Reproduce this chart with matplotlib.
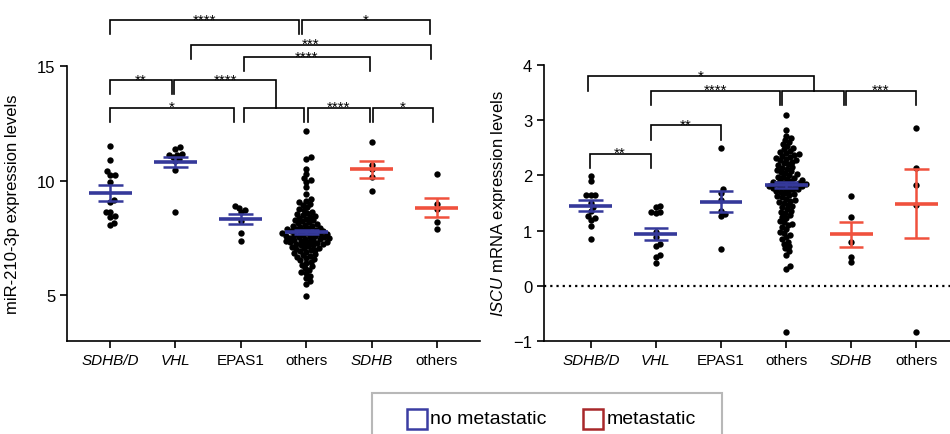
import numpy as np
import matplotlib
matplotlib.use('Agg')
import matplotlib.pyplot as plt
from matplotlib.patches import Rectangle
from matplotlib.lines import Line2D

plt.rcParams['font.family'] = ['Liberation Sans', 'DejaVu Sans']
plt.rcParams['mathtext.fontset'] = 'custom'
plt.rcParams['mathtext.it'] = 'Liberation Sans:italic'
plt.rcParams['mathtext.rm'] = 'Liberation Sans'

# groups (4 non metastatic, 2 metastatic)
groups = ['SDHB/D', 'VHL', 'EPAS1', 'others', 'SDHB', 'others']
group_italic = [True, True, False, False, True, False]
metastatic = [False, False, False, False, True, True]

# miR-210-3p values
mir_sdhbd = [11.5, 10.9, 10.25, 10.25, 10.4, 9.95, 9.05, 9.15, 8.65, 8.65, 8.4, 8.45, 8.05, 8.15]
mir_vhl = [11.46, 11.39, 11.17, 11.13, 11.13, 11.03, 10.95, 10.85, 10.48, 8.64]
mir_epas1 = [8.87, 8.8, 8.71, 8.61, 8.25, 7.72, 7.36]
mir_others = [12.15, 11.02, 10.95, 10.52, 10.3, 10.12, 10.02, 9.95, 9.72, 9.4, 9.2, 9.12,
              9.05, 9.0, 8.92, 8.85, 8.78, 8.72, 8.65, 8.6, 8.55, 8.5, 8.46, 8.42, 8.38,
              8.34, 8.3, 8.26, 8.22, 8.18, 8.14, 8.1, 8.07, 8.04, 8.01, 7.98, 7.95, 7.92,
              7.9, 7.88, 7.85, 7.83, 7.8, 7.78, 7.76, 7.74, 7.72, 7.7, 7.68, 7.66, 7.64,
              7.62, 7.6, 7.58, 7.56, 7.54, 7.52, 7.5, 7.48, 7.46, 7.44, 7.42, 7.4, 7.38,
              7.36, 7.34, 7.32, 7.3, 7.28, 7.26, 7.24, 7.22, 7.2, 7.17, 7.14, 7.11, 7.08,
              7.05, 7.02, 6.99, 6.95, 6.91, 6.87, 6.83, 6.79, 6.75, 6.71, 6.67, 6.62,
              6.57, 6.52, 6.46, 6.4, 6.33, 6.26, 6.18, 6.1, 6.02, 5.95, 5.85, 5.75, 5.62,
              5.5, 4.95]
mir_sdhb_met = [11.7, 10.7, 10.5, 10.15, 9.55]
mir_others_met = [10.3, 9.0, 8.75, 8.2, 7.9]
mir_mean = [9.46, 10.83, 8.33, 7.77, 10.49, 8.81]
mir_sem = [0.33, 0.22, 0.21, 0.08, 0.36, 0.42]

# ISCU mRNA values
iscu_sdhbd = [1.99, 1.9, 1.64, 1.64, 1.64, 1.5, 1.42, 1.35, 1.26, 1.22, 1.19, 1.08, 0.85]
iscu_vhl = [1.44, 1.42, 1.33, 1.33, 1.31, 0.97, 0.88, 0.76, 0.72, 0.56, 0.52, 0.41]
iscu_epas1 = [2.5, 1.76, 1.69, 1.56, 1.36, 1.3, 1.26, 0.67]
iscu_others = [3.1, 2.83, 2.72, 2.68, 2.64, 2.6, 2.57, 2.53, 2.5, 2.47, 2.44, 2.42, 2.4,
               2.38, 2.37, 2.35, 2.34, 2.32, 2.3, 2.28, 2.27, 2.25, 2.22, 2.2, 2.18, 2.16,
               2.14, 2.12, 2.1, 2.08, 2.06, 2.04, 2.02, 2.0, 1.98, 1.97, 1.95, 1.93, 1.92,
               1.9, 1.89, 1.88, 1.87, 1.86, 1.85, 1.84, 1.83, 1.82, 1.81, 1.8, 1.79, 1.78,
               1.77, 1.76, 1.75, 1.73, 1.72, 1.7, 1.68, 1.66, 1.64, 1.62, 1.6, 1.58, 1.56,
               1.54, 1.52, 1.5, 1.47, 1.44, 1.42, 1.39, 1.36, 1.34, 1.31, 1.28, 1.25, 1.22,
               1.18, 1.15, 1.12, 1.1, 1.06, 1.02, 0.98, 0.95, 0.92, 0.88, 0.84, 0.8, 0.76,
               0.72, 0.68, 0.63, 0.56, 0.35, 0.3, -0.83]
iscu_sdhb_met = [1.62, 1.25, 0.79, 0.53, 0.43]
iscu_others_met = [2.85, 2.14, 1.82, 1.46, -0.83]
iscu_mean = [1.45, 0.94, 1.52, 1.83, 0.93, 1.49]
iscu_sem = [0.10, 0.11, 0.19, 0.05, 0.22, 0.62]

# significance brackets: x1, x2, bar y, left leg end, right leg end, label
mir_brackets = [
    (0.0, 2.89, 17.0, 16.4, 16.4, '****'),
    (2.94, 4.89, 17.0, 16.4, 16.4, '*'),
    (1.23, 4.91, 15.92, 15.31, 15.31, '***'),
    (2.05, 3.97, 15.39, 14.78, 14.78, '****'),
    (0.0, 0.94, 14.39, 13.78, 13.78, '**'),
    (0.98, 2.54, 14.39, 13.78, 13.17, '****'),
    (2.05, 2.97, 13.17, 12.55, 12.55, ''),
    (0.0, 1.89, 13.17, 12.55, 12.55, '*'),
    (3.03, 3.97, 13.17, 12.55, 12.55, '****'),
    (4.02, 4.94, 13.17, 12.55, 12.55, '*'),
]
iscu_brackets = [
    (-0.05, 3.43, 3.80, 3.53, 3.53, '*'),
    (0.92, 2.91, 3.53, 3.28, 3.28, '****'),
    (2.94, 3.89, 3.53, 3.28, 3.28, ''),
    (3.92, 5.0, 3.53, 3.28, 3.28, '***'),
    (0.92, 2.0, 2.91, 2.64, 2.64, '**'),
    (-0.02, 0.92, 2.39, 2.13, 2.13, '**'),
]

BLUE = '#35399a'
RED = '#f0513d'


def swarm(vals, xpx, ypx, d=4.6):
    # simple beeswarm in pixel space, returns x offsets in data units
    vals = np.asarray(vals, float)
    placed = []
    offs = np.zeros(len(vals))
    for i in np.argsort(vals):
        y = vals[i] * ypx
        cands = [0.0]
        for px, py in placed:
            dy = y - py
            if abs(dy) < d:
                dx = np.sqrt(d * d - dy * dy)
                cands += [px + dx, px - dx]
        cands.sort(key=abs)
        for c in cands:
            if all((c - px) ** 2 + (y - py) ** 2 >= d * d - 1e-6 for px, py in placed):
                break
        placed.append((c, y))
        offs[i] = c
    return offs / xpx


def draw_panel(ax, values, means, sems, brackets, xpx, ypx):
    for i, vals in enumerate(values):
        offs = swarm(vals, xpx, ypx)
        ax.scatter(i + offs, vals, s=21, color='black', linewidths=0, zorder=2)
        c = RED if metastatic[i] else BLUE
        m, e = means[i], sems[i]
        ax.hlines(m, i - 0.33, i + 0.33, color=c, lw=2.6, zorder=3)
        ax.hlines([m - e, m + e], i - 0.19, i + 0.19, color=c, lw=1.8, zorder=3)
        ax.vlines(i, m - e, m + e, color=c, lw=1.8, zorder=3)

    for x1, x2, yb, yl, yr, lab in brackets:
        ax.plot([x1, x1, x2, x2], [yl, yb, yb, yr], color='black', lw=1.2,
                clip_on=False, solid_joinstyle='miter')
        if lab:
            ax.annotate(lab, ((x1 + x2) / 2, yb), xytext=(0, -2.4), textcoords='offset points',
                        ha='center', va='baseline', fontsize=11, annotation_clip=False)

    ax.spines[['top', 'right']].set_visible(False)
    ax.spines[['left', 'bottom']].set_linewidth(1.2)
    ax.tick_params(direction='out', length=5, width=1.2, labelsize=11)
    ax.tick_params(axis='y', labelsize=12)
    ax.set_xticks(range(len(groups)))
    ax.set_xticklabels(groups)
    for lbl, it in zip(ax.get_xticklabels(), group_italic):
        if it:
            lbl.set_fontstyle('italic')


fig = plt.figure(figsize=(9.5, 4.35), dpi=100)

ax1 = fig.add_axes([67 / 950, 1 - 342 / 435, 413 / 950, 275 / 435])
draw_panel(ax1, [mir_sdhbd, mir_vhl, mir_epas1, mir_others, mir_sdhb_met, mir_others_met],
           mir_mean, mir_sem, mir_brackets, 65.0, 22.9)
ax1.set_xlim(-0.66, 5.66)
ax1.set_ylim(3.0, 15)
ax1.set_yticks([5, 10, 15])
ax1.set_ylabel('miR-210-3p expression levels', fontsize=12)
ax1.yaxis.set_label_coords(-0.114, 0.5)

ax2 = fig.add_axes([544 / 950, 1 - 342 / 435, 406 / 950, 276 / 435])
ax2.axhline(0, color='black', ls=(0, (1, 1.8)), lw=1.6, zorder=1)
draw_panel(ax2, [iscu_sdhbd, iscu_vhl, iscu_epas1, iscu_others, iscu_sdhb_met, iscu_others_met],
           iscu_mean, iscu_sem, iscu_brackets, 65.0, 55.2)
ax2.set_xlim(-0.72, 5.52)
ax2.set_ylim(-1, 4)
ax2.set_yticks([-1, 0, 1, 2, 3, 4])
ax2.set_ylabel(r'$\mathit{ISCU}$ mRNA expression levels', fontsize=12)
ax2.yaxis.set_label_coords(-0.089, 0.5)

# legend box (bottom cut off by figure edge)
fig.add_artist(Rectangle((372 / 950, -0.05), 350 / 950, 0.05 + 1 - 394 / 435,
                         transform=fig.transFigure, facecolor='white',
                         edgecolor='#b8b8b8', lw=1.5))
ly = 1 - 420 / 435
fig.add_artist(Line2D([417 / 950], [ly], marker='s', markersize=14, mfc='none',
                      mec='#3b3da3', mew=1.8, transform=fig.transFigure))
fig.text(430 / 950, ly, 'no metastatic', fontsize=14, va='center', ha='left')
fig.add_artist(Line2D([593 / 950], [ly], marker='s', markersize=14, mfc='none',
                      mec='#a8282a', mew=1.8, transform=fig.transFigure))
fig.text(607 / 950, ly, 'metastatic', fontsize=14, va='center', ha='left')

fig.savefig('out.png', dpi=100)
